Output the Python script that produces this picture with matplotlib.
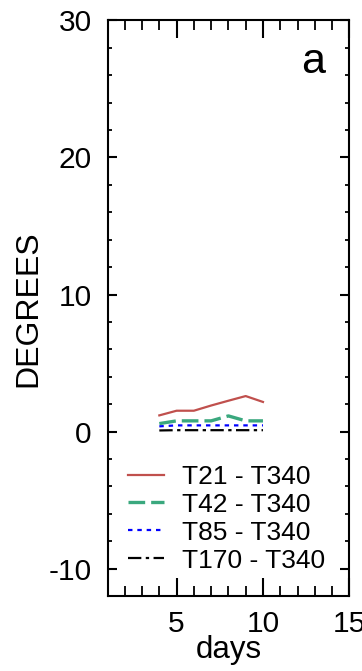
"""Resolution error vs T340 (panel a)."""

import matplotlib
matplotlib.use("Agg")
import matplotlib.pyplot as plt
from matplotlib.ticker import MultipleLocator

plt.rcParams["font.family"] = ["Liberation Sans", "DejaVu Sans"]
plt.rcParams["axes.unicode_minus"] = False

days = [4, 5, 6, 7, 8, 9, 10]
t21 = [1.18, 1.52, 1.52, 1.9, 2.25, 2.59, 2.16]
t42 = [0.58, 0.78, 0.78, 0.78, 1.14, 0.78, 0.78]
t85 = [0.38, 0.45, 0.45, 0.45, 0.45, 0.45, 0.45]
t170 = [0.08, 0.1, 0.1, 0.1, 0.1, 0.1, 0.1]
labels = ["T21 - T340", "T42 - T340", "T85 - T340", "T170 - T340"]

fig = plt.figure(figsize=(3.62, 6.71), dpi=100)
ax = fig.add_axes([0.297, 0.1118, 0.668, 0.8577])

ax.plot(days, t21, color="#c0504d", lw=1.6, label=labels[0])
ax.plot(days, t42, color="#3aa87e", lw=2.4, dashes=(5, 1.8), label=labels[1])
ax.plot(days, t85, color="#0000ff", lw=1.6, dashes=(2, 2.2), label=labels[2])
ax.plot(days, t170, color="black", lw=1.6, dashes=(6, 2, 1.5, 2), label=labels[3])

ax.set_xlim(1, 15)
ax.set_ylim(-12, 30)
ax.xaxis.set_major_locator(MultipleLocator(5))
ax.xaxis.set_minor_locator(MultipleLocator(1))
ax.yaxis.set_major_locator(MultipleLocator(10))
ax.yaxis.set_minor_locator(MultipleLocator(2))

for s in ax.spines.values():
    s.set_linewidth(1.5)
ax.tick_params(axis="x", which="major", direction="in", top=True, length=13,
               width=1.5, labelsize=21.5, pad=10)
ax.tick_params(axis="x", which="minor", direction="in", top=True, length=7, width=1.3)
ax.tick_params(axis="y", which="major", direction="in", right=True, length=6.5,
               width=1.5, labelsize=21.5, pad=11.5)
ax.tick_params(axis="y", which="minor", direction="in", right=True, length=3, width=1.3)

ax.set_ylabel("DEGREES", fontsize=23)
ax.yaxis.set_label_coords(-0.327, 0.5)
ax.yaxis.label.set_va("center")
ax.set_xlabel("days", fontsize=22.5)
ax.xaxis.set_label_coords(0.5, -0.068)

ax.text(0.9, 0.909, "a", transform=ax.transAxes, ha="right", va="baseline",
        fontsize=31)

ax.legend(loc="upper left", bbox_to_anchor=(0.083, 0.228), frameon=False,
          fontsize=19, handlelength=1.39, handletextpad=0.67,
          labelspacing=0.15, borderpad=0, borderaxespad=0)

fig.savefig("out.png", dpi=100)
